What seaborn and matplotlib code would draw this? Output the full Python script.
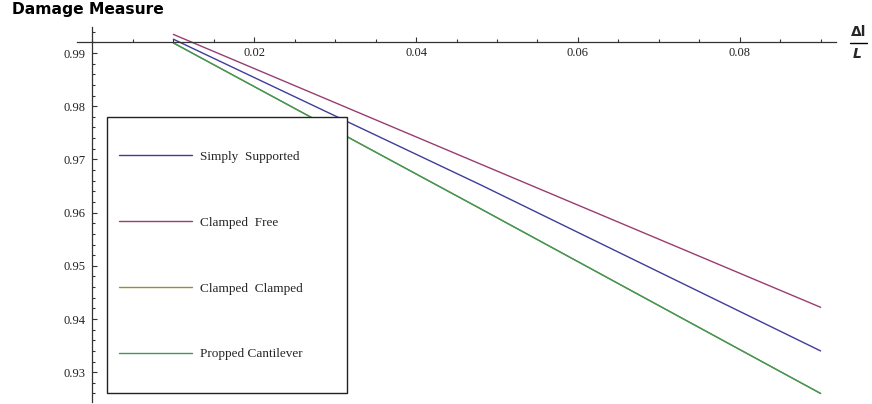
import matplotlib
matplotlib.use("Agg")
import matplotlib.pyplot as plt
from matplotlib.patches import Rectangle
from matplotlib.lines import Line2D
from matplotlib.ticker import MultipleLocator, FixedLocator
import seaborn as sns
import numpy as np

# ---- data ----
x_ratio = [0.01, 0.048, 0.09]
simply_supported = [0.9926, 0.9652, 0.9340]
clamped_free = [0.9935, 0.9691, 0.9422]
clamped_clamped = [0.9919, 0.9607, 0.9260]
propped_cantilever = [0.9919, 0.9607, 0.9260]

series_names = ["Simply  Supported", "Clamped  Free", "Clamped  Clamped", "Propped Cantilever"]
series_values = [simply_supported, clamped_free, clamped_clamped, propped_cantilever]
series_colors = [(0.247, 0.24, 0.6), (0.6, 0.24, 0.443), (0.6, 0.553, 0.24), (0.24, 0.6, 0.35)]

y_major = [0.93, 0.94, 0.95, 0.96, 0.97, 0.98, 0.99]
x_major = [0.02, 0.04, 0.06, 0.08]

sns.set_style("white")
plt.rcParams["font.family"] = ["Liberation Serif", "DejaVu Serif"]

W, H = 872, 404
fig = plt.figure(figsize=(W / 100, H / 100), dpi=100)
ax = fig.add_axes([77.3 / W, 1 - 402 / H, (836 - 77.3) / W, (402 - 27) / H])
ax.set_facecolor("none")

for name, vals, col in zip(series_names, series_values, series_colors):
    sns.lineplot(x=x_ratio, y=vals, ax=ax, color=col, linewidth=1.0, label=name)

ax.set_xlim(-0.00187, 0.0919)
ax.set_ylim(0.9244, 0.99489)

for s in ["top", "right"]:
    ax.spines[s].set_visible(False)
ax.spines["left"].set_position(("data", 0.0))
ax.spines["bottom"].set_position(("data", 0.992))
for s in ["left", "bottom"]:
    ax.spines[s].set_color("#333333")
    ax.spines[s].set_linewidth(0.9)

ax.xaxis.set_major_locator(FixedLocator(x_major))
ax.xaxis.set_minor_locator(MultipleLocator(0.005))
ax.yaxis.set_major_locator(FixedLocator(y_major))
ax.yaxis.set_minor_locator(MultipleLocator(0.002))
ax.set_xticklabels([f"{v:.2f}" for v in x_major])
ax.set_yticklabels([f"{v:.2f}" for v in y_major])
ax.tick_params(axis="both", which="both", bottom=True, left=True, top=False, right=False)
ax.tick_params(axis="both", which="major", direction="in", length=3.8, width=0.8,
               color="#333333", labelsize=9, labelcolor="#222222")
ax.tick_params(axis="both", which="minor", direction="in", length=2.4, width=0.8, color="#333333")
ax.tick_params(axis="x", which="major", pad=3)
ax.tick_params(axis="y", which="major", pad=5)
ax.set_xlabel("")
ax.set_ylabel("")
if ax.get_legend() is not None:
    ax.get_legend().remove()

# title
fig.text(11.7 / W, 1 - 9.5 / H, "Damage Measure", family="DejaVu Sans", fontweight="bold",
         fontsize=11.2, ha="left", va="center", color="black")

# axis label fraction  Δl / L
fig.text(858.5 / W, 1 - 32.5 / H, "Δl", family="DejaVu Sans", fontweight="bold",
         fontsize=10, ha="center", va="center")
fig.text(857.5 / W, 1 - 53.5 / H, "L", family="DejaVu Sans", fontweight="bold", style="italic",
         fontsize=10, ha="center", va="center")
fig.add_artist(Line2D([850 / W, 867 / W], [1 - 42.7 / H, 1 - 42.7 / H], color="black",
                      linewidth=1.0, transform=fig.transFigure))

# legend box (opaque)
box = Rectangle((107 / W, 1 - 392.7 / H), 240 / W, 276 / H, transform=fig.transFigure,
                facecolor="white", edgecolor="#222222", linewidth=1.0, zorder=2)
fig.add_artist(box)

handles = ax.get_lines()[:4]
leg = fig.legend(handles, series_names, loc="upper left",
                 bbox_to_anchor=(119 / W, 1 - 150.8 / H), bbox_transform=fig.transFigure,
                 frameon=False, borderpad=0, borderaxespad=0,
                 handlelength=5.53, handletextpad=0.6, labelspacing=4.06,
                 prop={"family": "Liberation Serif", "size": 9.5})
leg.set_zorder(5)

fig.savefig("out.png", dpi=100)
